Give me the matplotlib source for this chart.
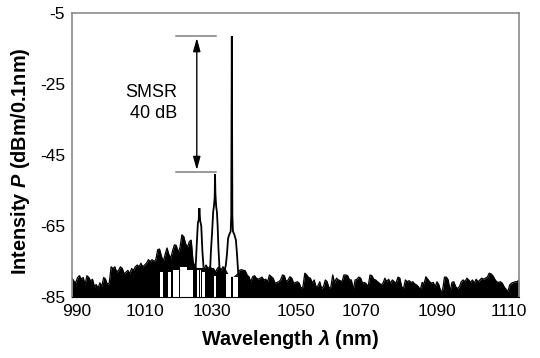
import numpy as np
import matplotlib
matplotlib.use("Agg")
import matplotlib.pyplot as plt
from matplotlib.transforms import ScaledTranslation

plt.rcParams['font.family'] = ['Liberation Sans', 'DejaVu Sans']
plt.rcParams['axes.unicode_minus'] = False
plt.rcParams['mathtext.fontset'] = 'custom'
plt.rcParams['mathtext.rm'] = 'Liberation Sans:bold'
plt.rcParams['mathtext.it'] = 'Liberation Sans:italic:bold'
plt.rcParams['mathtext.bf'] = 'Liberation Sans:bold'

# ---- data -------------------------------------------------------------
# upper envelope of the dense noise/ASE trace, 990..1110 nm every 0.5 nm
band_start, band_step = 990.0, 0.5
band_top = [
    -79.7, -80.5, -81.0, -79.5, -79.0, -80.0, -79.5, -81.5, -79.0, -79.5,
    -80.5, -80.0, -82.0, -81.5, -82.5, -81.0, -82.0, -79.5, -80.0, -81.5,
    -81.0, -76.5, -77.0, -76.5, -78.0, -77.5, -76.5, -77.0, -78.5, -78.0,
    -77.5, -78.5, -77.0, -77.5, -76.5, -76.0, -76.5, -75.5, -76.5, -76.0,
    -75.5, -74.5, -75.0, -74.5, -75.0, -74.5, -71.7, -71.5, -73.5, -75.0,
    -73.0, -71.2, -73.0, -74.1, -72.0, -70.3, -70.5, -72.5, -71.0, -67.5,
    -68.0, -70.0, -71.0, -69.4, -69.0, -75.0, -76.5, -77.0, -77.0, -77.0,
    -77.0, -77.0, -76.0, -77.0, -76.5, -77.0, -77.0, -78.0, -77.0, -76.5,
    -77.5, -76.5, -77.0, -78.0, -79.0, -79.5, -79.5, -79.5, -79.0, -78.5,
    -77.5, -77.3, -77.5, -77.6, -78.8, -79.3, -80.7, -79.3, -79.0, -79.7,
    -80.0, -79.7, -79.4, -80.2, -80.0, -80.7, -78.8, -79.3, -79.7, -81.1,
    -80.9, -80.7, -80.2, -78.8, -79.0, -80.7, -80.2, -79.3, -79.7, -81.1,
    -80.9, -80.7, -81.1, -82.6, -82.1, -78.3, -78.8, -79.5, -79.7, -81.1,
    -80.2, -82.1, -81.9, -80.7, -82.6, -82.1, -80.2, -80.7, -82.6, -82.1,
    -78.8, -81.0, -79.7, -80.2, -80.4, -80.7, -78.8, -78.8, -79.0, -80.2,
    -80.2, -83.0, -80.2, -80.0, -79.4, -79.7, -81.1, -80.9, -81.3, -82.1,
    -78.8, -79.0, -80.0, -80.2, -80.7, -81.1, -81.6, -81.1, -79.7, -80.7,
    -80.0, -81.1, -80.2, -80.7, -81.1, -79.4, -79.7, -82.1, -82.6, -80.2,
    -80.7, -80.4, -80.9, -80.7, -81.3, -81.6, -82.1, -83.0, -80.9, -81.3,
    -79.3, -80.0, -80.7, -81.1, -80.9, -82.1, -80.7, -81.6, -83.5, -83.0,
    -79.4, -79.4, -80.2, -83.5, -80.9, -80.7, -82.1, -82.6, -82.1, -80.7,
    -80.2, -80.7, -79.7, -80.2, -80.9, -80.2, -81.1, -80.0, -80.7, -80.2,
    -79.7, -80.0, -79.7, -79.4, -78.3, -78.5, -79.0, -80.0, -80.7, -80.9,
    -80.7, -81.1, -82.1, -82.8, -83.5, -81.6, -81.1, -80.9, -80.7, -80.7,
    -80.2,
]
# white pockets below the trace: (from nm, to nm, upper edge of the pocket in dB)
pockets = [
    (1013.6, 1014.5, -78.0),
    (1015.9, 1016.6, -78.0),
    (1017.2, 1018.6, -77.3),
    (1018.9, 1020.8, -76.5),
    (1021.0, 1022.6, -77.5),
    (1023.6, 1024.0, -77.5),
    (1024.4, 1024.7, -77.5),
    (1024.9, 1025.6, -78.0),
    (1028.0, 1028.7, -79.0),
    (1031.4, 1032.7, -78.5),
    (1033.1, 1034.6, -79.5),
]

# lasing / side-mode peaks (outline traces)
peak1_wl = [1023.2, 1023.5, 1023.8, 1024.0, 1024.2, 1024.4, 1024.7, 1025.0, 1025.3]
peak1_db = [-76.5, -70.0, -64.0, -63.5, -60.0, -63.5, -65.0, -72.0, -76.5]

peak2_wl = [1027.1, 1027.3, 1027.6, 1027.9, 1028.1, 1028.3, 1028.4, 1028.5,
            1028.7, 1028.9, 1029.1, 1029.3, 1029.6]
peak2_db = [-77.0, -72.0, -67.0, -61.0, -59.5, -57.0, -50.5, -56.0,
            -59.5, -61.0, -65.0, -71.0, -77.0]

main_wl = [1031.0, 1031.3, 1031.6, 1031.9, 1032.2, 1032.6, 1032.75, 1032.9,
           1033.05, 1033.2, 1033.6, 1034.0, 1034.3, 1034.6, 1034.9]
main_db = [-77.5, -76.0, -73.0, -68.5, -67.5, -66.5, -62.0, -11.6,
           -62.0, -66.5, -67.5, -69.0, -73.0, -78.0, -79.0]

# SMSR annotation
smsr_top = -11.5
smsr_bottom = -49.7
smsr_x0, smsr_x1 = 1017.9, 1028.7
smsr_arrow_x = 1023.5
smsr_label = "SMSR\n40 dB"

x_ticks = [990, 1010, 1030, 1050, 1070, 1090, 1110]
y_ticks = [-5, -25, -45, -65, -85]

# ---- plot -------------------------------------------------------------
fig = plt.figure(figsize=(5.40, 3.58), dpi=100)
ax = fig.add_axes([72 / 540, 1 - 297 / 358, 447 / 540, (297 - 12.7) / 358])

band_top = np.array(band_top)
band_wl = band_start + band_step * np.arange(len(band_top))

ax.fill_between(band_wl, -86, band_top, color='black', lw=0, zorder=1)
ax.plot(band_wl, band_top, color='black', lw=0.9, zorder=1.1)

for a, b, lvl in pockets:
    ax.fill_between([a, b], -86, lvl, color='white', lw=0, zorder=1.5)

for w, d in [(peak1_wl, peak1_db), (peak2_wl, peak2_db), (main_wl, main_db)]:
    ax.plot(w, d, color='black', lw=1.3, solid_joinstyle='miter', zorder=2)

# SMSR marker
ax.plot([smsr_x0, smsr_x1], [smsr_top, smsr_top], color='#7f7f7f', lw=1.1)
ax.plot([smsr_x0, smsr_x1], [smsr_bottom, smsr_bottom], color='#7f7f7f', lw=1.1)
ax.annotate('', xy=(smsr_arrow_x, smsr_top - 0.6), xytext=(smsr_arrow_x, smsr_bottom + 0.4),
            arrowprops=dict(arrowstyle='<|-|>,head_length=0.8,head_width=0.22',
                            color='black', lw=1.0, mutation_scale=10,
                            shrinkA=0, shrinkB=0))
ax.text(1018.2, -30.5, smsr_label, ha='right', va='center', multialignment='right',
        fontsize=13, linespacing=1.3)

ax.set_xlim(990, 1110)
ax.set_ylim(-85, -5)
ax.set_xticks(x_ticks)
ax.set_yticks(y_ticks)
ax.tick_params(length=0, labelsize=12.5, pad=5)

# the printed tick labels sit slightly off their nominal positions
label_shift_px = [4.5, -1.5, -9.3, 0.4, -9.2, -7.8, -10.6]
for lab, dx in zip(ax.get_xticklabels(), label_shift_px):
    lab.set_transform(lab.get_transform() + ScaledTranslation(dx / 100, 0, fig.dpi_scale_trans))

for s in ['top', 'right', 'left']:
    ax.spines[s].set_color('#8a8a8a')
    ax.spines[s].set_linewidth(1.2)
ax.spines['bottom'].set_color('black')

ax.set_xlabel(r'Wavelength $\lambda$ (nm)', fontsize=14.3, fontweight='bold')
ax.xaxis.set_label_coords(0.488, -0.148)
ax.xaxis.label.set_va('center')
ax.set_ylabel(r'Intensity $P$ (dBm/0.1nm)', fontsize=14.3, fontweight='bold')
ax.yaxis.set_label_coords(-0.09, 0.476)

fig.savefig('out.png', dpi=100)
